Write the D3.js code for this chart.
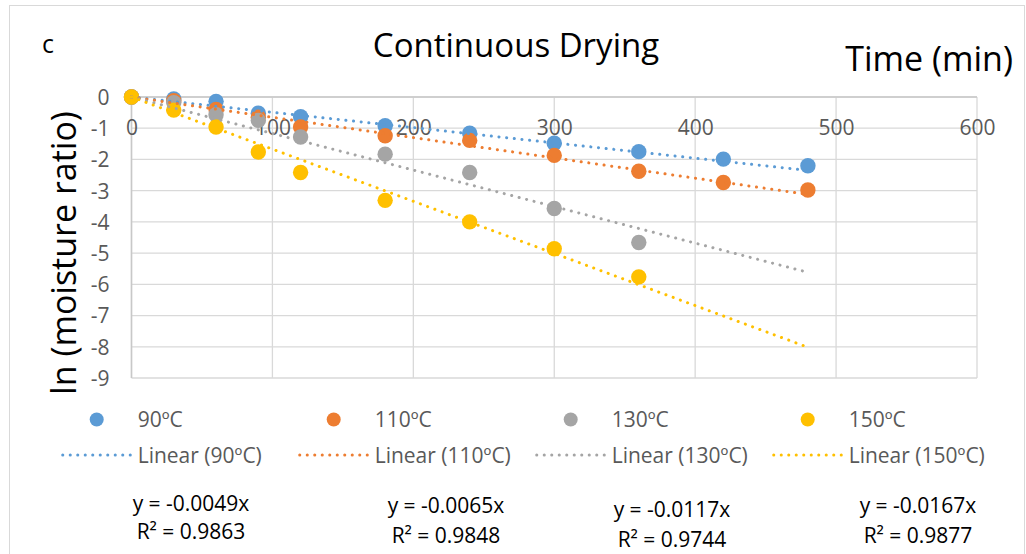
<!DOCTYPE html>
<html><head><meta charset="utf-8">
<script src="https://cdn.jsdelivr.net/npm/d3@7"></script>
<style>body{margin:0;background:#fff} svg{display:block} text{font-family:'Open Sans',sans-serif}</style>
</head><body><svg id="chart" width="1026" height="554"></svg>
<script>
// ---- data ----
const seriesNames = ["90ºC", "110ºC", "130ºC", "150ºC"];
const colors = ["#5B9BD5", "#ED7D31", "#A5A5A5", "#FFC000"];
const times90 = [0, 30, 60, 90, 120, 180, 240, 300, 360, 420, 480];
const lnMR90 = [0, -0.06, -0.14, -0.52, -0.63, -0.92, -1.16, -1.48, -1.75, -1.99, -2.2];
const times110 = [0, 30, 60, 90, 120, 180, 240, 300, 360, 420, 480];
const lnMR110 = [0, -0.12, -0.4, -0.65, -0.96, -1.24, -1.39, -1.87, -2.38, -2.74, -2.98];
const times130 = [0, 30, 60, 90, 120, 180, 240, 300, 360];
const lnMR130 = [0, -0.18, -0.57, -0.75, -1.28, -1.83, -2.42, -3.57, -4.66];
const times150 = [0, 30, 60, 90, 120, 180, 240, 300, 360];
const lnMR150 = [0, -0.42, -0.96, -1.76, -2.42, -3.31, -4.0, -4.86, -5.76];
const slopes = [-0.0049, -0.0065, -0.0117, -0.0167];
const r2Values = ["0.9863", "0.9848", "0.9744", "0.9877"];
const trendEnd = 480;
const xTicks = [0, 100, 200, 300, 400, 500, 600];
const yTicks = [0, -1, -2, -3, -4, -5, -6, -7, -8, -9];

const series = [
  {t: times90, v: lnMR90}, {t: times110, v: lnMR110},
  {t: times130, v: lnMR130}, {t: times150, v: lnMR150}
].map((s, i) => ({name: seriesNames[i], color: colors[i], slope: slopes[i], r2: r2Values[i],
  pts: s.t.map((t, j) => ({x: t, y: s.v[j]}))}));

// ---- layout ----
const svg = d3.select("#chart");
const x = d3.scaleLinear().domain([0, 600]).range([131.5, 977]);
const y = d3.scaleLinear().domain([-9, 0]).range([378, 97]);

// chart border
svg.append("rect").attr("x", 9.5).attr("y", 5.5).attr("width", 1015).attr("height", 560)
  .attr("fill", "none").attr("stroke", "#D9D9D9").attr("stroke-width", 1);

// gridlines
const grid = svg.append("g");
grid.selectAll("line.v").data(xTicks).join("line")
  .attr("x1", d => x(d)).attr("x2", d => x(d)).attr("y1", y(0)).attr("y2", y(-9))
  .attr("stroke", "#D9D9D9").attr("stroke-width", 1.3);
grid.selectAll("line.h").data(yTicks).join("line")
  .attr("x1", x(0)).attr("x2", x(600)).attr("y1", d => y(d)).attr("y2", d => y(d))
  .attr("stroke", "#D9D9D9").attr("stroke-width", 1.3);
// axis lines
svg.append("line").attr("x1", x(0)).attr("x2", x(0)).attr("y1", y(0)).attr("y2", y(-9))
  .attr("stroke", "#C8C8C8").attr("stroke-width", 1.5);
svg.append("line").attr("x1", x(0)).attr("x2", x(600)).attr("y1", y(0)).attr("y2", y(0))
  .attr("stroke", "#C8C8C8").attr("stroke-width", 1.5);

// axes (labels only)
const xAxis = svg.append("g").attr("transform", `translate(0,${y(0)})`)
  .call(d3.axisBottom(x).tickValues(xTicks).tickSize(0).tickFormat(d => String(d)));
xAxis.select(".domain").remove();
xAxis.selectAll("text").attr("y", 38).attr("dy", 0).attr("fill", "#595959")
  .style("font-size", "21px").style("font-family", "'Open Sans',sans-serif");

const yAxis = svg.append("g").attr("transform", `translate(${x(0)},0)`)
  .call(d3.axisLeft(y).tickValues(yTicks).tickSize(0).tickFormat(d => String(d)));
yAxis.select(".domain").remove();
yAxis.selectAll("text").attr("x", -22).attr("dy", "0.35em").attr("fill", "#595959")
  .style("font-size", "21px").style("font-family", "'Open Sans',sans-serif");

// markers
series.forEach(s => {
  svg.append("g").selectAll("circle").data(s.pts).join("circle")
    .attr("cx", d => x(d.x)).attr("cy", d => y(d.y)).attr("r", 7.7).attr("fill", s.color);
});
// trendlines
series.forEach(s => {
  svg.append("line").attr("x1", x(0)).attr("y1", y(0))
    .attr("x2", x(trendEnd)).attr("y2", y(s.slope * trendEnd))
    .attr("stroke", s.color).attr("stroke-width", 3).attr("stroke-linecap", "round")
    .attr("stroke-dasharray", "0.1 7.6");
});

// titles
svg.append("text").attr("x", 42).attr("y", 53).text("c").style("font-size", "25px").attr("fill", "#000");
svg.append("text").attr("x", 516).attr("y", 57).attr("text-anchor", "middle")
  .text("Continuous Drying").style("font-size", "33px").attr("fill", "#000");
svg.append("text").attr("x", 1013).attr("y", 71).attr("text-anchor", "end")
  .text("Time (min)").style("font-size", "34px").attr("fill", "#000");
svg.append("text").attr("transform", "translate(76,253) rotate(-90)").attr("text-anchor", "middle")
  .text("ln (moisture ratio)").style("font-size", "34px").attr("fill", "#000");

// legend
const leg = svg.append("g");
series.forEach((s, i) => {
  const mx = 96.7 + i * 237;
  leg.append("circle").attr("cx", mx).attr("cy", 419.5).attr("r", 7).attr("fill", s.color);
  leg.append("text").attr("x", mx + 41).attr("y", 427).text(s.name)
    .style("font-size", "21px").attr("fill", "#595959");
  leg.append("line").attr("x1", mx - 34).attr("x2", mx + 34).attr("y1", 455).attr("y2", 455)
    .attr("stroke", s.color).attr("stroke-width", 3).attr("stroke-linecap", "round")
    .attr("stroke-dasharray", "0.1 7.4");
  leg.append("text").attr("x", mx + 41).attr("y", 463).text(`Linear (${s.name})`)
    .style("font-size", "21px").attr("fill", "#595959");
});

// equations
const eqPos = [[191, 511, 539], [446, 513, 543], [672, 517, 547], [918, 513, 543]];
series.forEach((s, i) => {
  const [cx, b1, b2] = eqPos[i];
  svg.append("text").attr("x", cx).attr("y", b1).attr("text-anchor", "middle")
    .text(`y = ${s.slope.toFixed(4)}x`).style("font-size", "21px").attr("fill", "#000");
  svg.append("text").attr("x", cx).attr("y", b2).attr("text-anchor", "middle")
    .text(`R² = ${s.r2}`).style("font-size", "21px").attr("fill", "#000");
});
</script></body></html>
